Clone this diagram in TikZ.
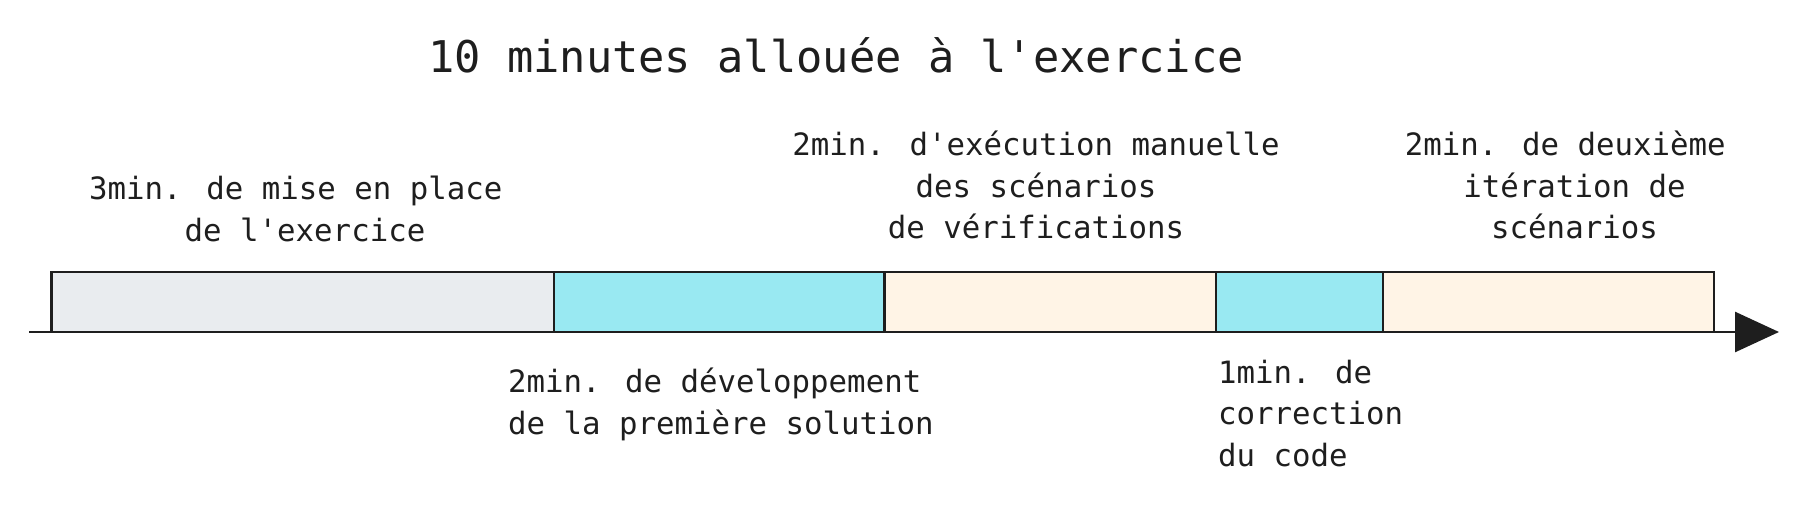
\documentclass[tikz,border=0pt]{standalone}
\usepackage{fontspec}
\newfontfamily\monof{DejaVu Sans Mono}
\usetikzlibrary{arrows.meta}
\definecolor{ink}{HTML}{1E1E1E}
\definecolor{segGray}{HTML}{E9ECEF}
\definecolor{segCyan}{HTML}{99E9F2}
\definecolor{segPeach}{HTML}{FFF4E6}
\tikzset{
  seg/.style={draw=ink, line width=1.35pt},
  lbl/.style={inner sep=0pt, outer sep=0pt, text=ink, font=\monof\fontsize{15.37pt}{20.75pt}\selectfont},
  ttl/.style={inner sep=0pt, outer sep=0pt, text=ink, font=\monof\fontsize{21.85pt}{26pt}\selectfont},
  axis/.style={draw=ink, line width=1.35pt, -{Triangle[length=22pt,width=20pt]}}
}
\begin{document}
\begin{tikzpicture}[x=0.5pt,y=-0.5pt]
\useasboundingbox (0,0) rectangle (1806,509);
% segments
\path[seg, fill=segGray]  (51.8,272) rectangle (554,332);
\path[seg, fill=segCyan]  (554,272) rectangle (884.6,332);
\path[seg, fill=segPeach] (884.6,272) rectangle (1216,332);
\path[seg, fill=segCyan]  (1216,272) rectangle (1383,332);
\path[seg, fill=segPeach] (1383,272) rectangle (1714,332);
% axis
\coordinate (axstart) at (29,332);
\coordinate (axend) at (1779,332);
\draw[axis] (axstart) -- (axend);
% title
\node[ttl, anchor=base] (title) at (836,72) {10 minutes allouée à l'exercice};
% labels above
\node[lbl, align=center, anchor=north] (l1) at (305,176) {3min. de mise en place\hphantom{x}\\de l'exercice};
\node[lbl, align=center, anchor=north] (l2) at (1036,131) {2min. d'exécution manuelle\\des scénarios\\de vérifications};
\node[lbl, align=center, anchor=north] (l3) at (1574.5,131) {2min. de deuxième\hphantom{x}\\itération de\\scénarios};
% labels below
\node[lbl, align=left, anchor=north west] (l4) at (508,368) {2min. de développement\\de la première solution};
\node[lbl, align=left, anchor=north west] (l5) at (1218,360) {1min. de\\correction\\du code};
\end{tikzpicture}
\end{document}
